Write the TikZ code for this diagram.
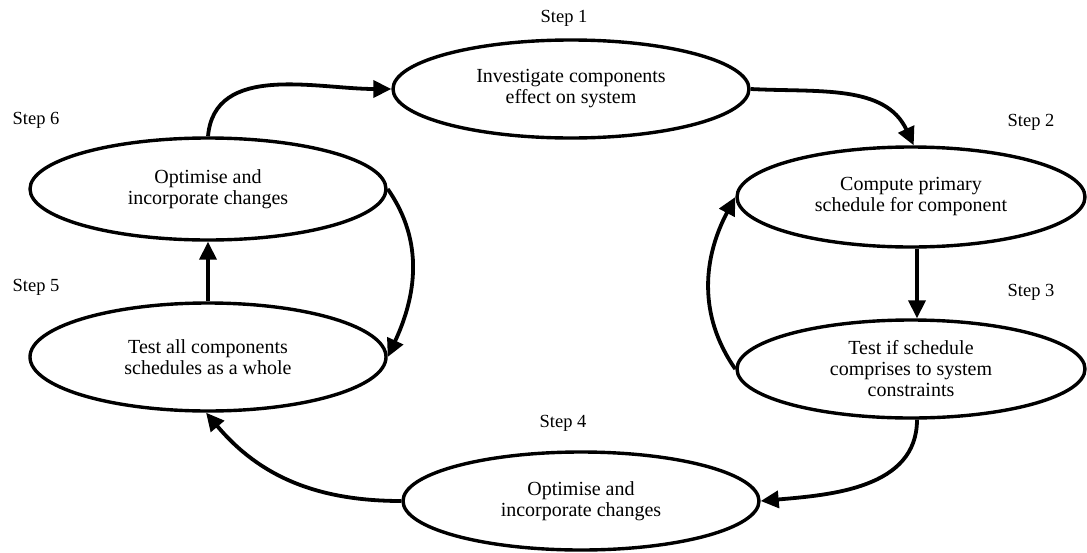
\documentclass[tikz,border=0pt]{standalone}
\usepackage{fontspec}
\setmainfont{Liberation Serif}
\usetikzlibrary{shapes.geometric,arrows.meta}
\begin{document}
\begin{tikzpicture}[x=1pt,y=1pt,
  stepbox/.style={ellipse,draw,line width=3.4pt,inner sep=0pt,align=center,
    font=\fontsize{20}{21}\selectfont},
  steplabel/.style={font=\fontsize{18.5}{20}\selectfont},
  conn/.style={line width=3.8pt,-{Triangle[length=18pt,width=17pt]}}]
\useasboundingbox (0,0) rectangle (1087,-552);
\node[stepbox,minimum width=356pt,minimum height=98pt] (e1) at (571,-89) {Investigate components\\effect on system};
\node[stepbox,minimum width=348pt,minimum height=100pt] (e2) at (911,-197) {Compute primary\\schedule for component};
\node[stepbox,minimum width=348pt,minimum height=98pt] (e3) at (911,-369) {Test if schedule\\comprises to system\\constraints};
\node[stepbox,minimum width=356pt,minimum height=98pt] (e4) at (581,-501) {Optimise and\\incorporate changes};
\node[stepbox,minimum width=356pt,minimum height=108pt] (e5) at (208,-357) {Test all components\\schedules as a whole};
\node[stepbox,minimum width=356pt,minimum height=102pt] (e6) at (208,-189) {Optimise and\\incorporate changes};
\node[steplabel] (l1) at (564,-18) {Step 1};
\node[steplabel] (l2) at (1031,-122) {Step 2};
\node[steplabel] (l3) at (1031,-292) {Step 3};
\node[steplabel] (l4) at (563,-423) {Step 4};
\node[steplabel] (l5) at (36,-287) {Step 5};
\node[steplabel] (l6) at (36,-120) {Step 6};
\draw[conn] (e6.north) to[out=85,in=180] (e1.west);
\draw[conn] (e1.east) to[out=-3,in=115] (e2.87);
\draw[conn] ([xshift=6pt]e2.south) -- ([xshift=6pt]e3.north);
\draw[conn] (e3.west) to[out=125,in=-118] (e2.west);
\draw[conn] ([xshift=6pt]e3.south) to[out=-90,in=5] (e4.east);
\draw[conn] (e4.west) to[out=180,in=-50] (e5.268);
\draw[conn] (e5.north) -- (e6.south);
\draw[conn] (e6.east) to[out=-55,in=65] (e5.east);
\end{tikzpicture}
\end{document}
